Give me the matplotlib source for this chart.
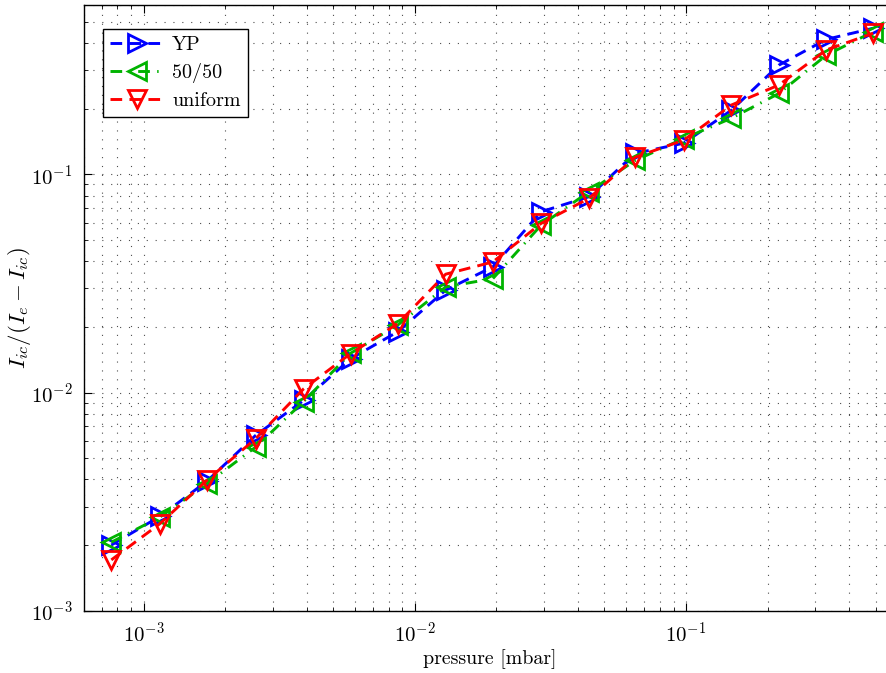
import numpy as np
import matplotlib
matplotlib.use("Agg")
from matplotlib import pyplot as plt


# pressure points (shared by all three series), mbar
pressure = [7.6e-4, 1.15e-3, 1.71e-3, 2.59e-3, 3.89e-3, 5.8e-3, 8.65e-3,
            1.3e-2, 1.94e-2, 2.92e-2, 4.38e-2, 6.5e-2, 9.8e-2, 0.147,
            0.22, 0.329, 0.49]

# I_ic / (I_e - I_ic)
yp      = [2.0e-3, 2.71e-3, 3.92e-3, 6.37e-3, 9.2e-3, 1.43e-2, 1.9e-2,
           2.95e-2, 3.77e-2, 6.74e-2, 7.9e-2, 0.125, 0.139, 0.197,
           0.317, 0.416, 0.468]
fifty   = [2.06e-3, 2.69e-3, 3.82e-3, 5.63e-3, 9.1e-3, 1.515e-2, 2.04e-2,
           3.05e-2, 3.33e-2, 5.85e-2, 8.32e-2, 0.116, 0.146, 0.181,
           0.235, 0.352, 0.451]
uniform = [1.71e-3, 2.51e-3, 3.96e-3, 6.15e-3, 1.04e-2, 1.51e-2, 2.07e-2,
           3.49e-2, 3.97e-2, 5.96e-2, 7.76e-2, 0.120, 0.1435, 0.208,
           0.257, 0.372, 0.444]

labels = ['YP', '50/50', 'uniform']


# LaTeX-ish look: computer modern everywhere
plt.rcParams['font.family'] = 'serif'
plt.rcParams['font.serif'] = ['cmr10', 'DejaVu Serif']
plt.rcParams['mathtext.fontset'] = 'cm'
plt.rcParams['axes.formatter.use_mathtext'] = True
plt.rcParams['axes.unicode_minus'] = False
plt.rcParams['font.size'] = 15

fig = plt.figure(figsize=(8.87, 6.73), dpi=100)
# right edge of the axes runs slightly past the figure, as in the reference
ax = fig.add_axes([83.5/887, 62.3/673, 813.5/887, 606/673])
ax.set_xscale('log')
ax.set_yscale('log')

common = dict(markersize=13, markeredgewidth=2, markerfacecolor='none', lw=2.1)
ax.plot(pressure, yp, color='b', marker='>', dashes=(4, 2.5),
        label=labels[0], **common)
ax.plot(pressure, fifty, color=(0, 0.7, 0), marker='<',
        dashes=(4, 2.5, 0.5, 2.5), label=labels[1], **common)
ax.plot(pressure, uniform, color='r', marker='v', dashes=(4, 2.5),
        label=labels[2], **common)

ax.set_xlim(6e-4, 0.6)
ax.set_ylim(1e-3, 0.6)

# matlab style dotted grid on major and minor ticks
ax.grid(True, which='both', color='0.3', lw=0.8, linestyle=(0, (1, 7)))
ax.tick_params(which='both', direction='in', top=True, right=True,
               labelsize=15, pad=8)
ax.tick_params(which='major', length=6)
ax.tick_params(which='minor', length=3)
for s in ax.spines.values():
    s.set_linewidth(1.0)

ax.set_xlabel('pressure [mbar]', fontsize=14.3, labelpad=2)
ax.set_ylabel(r'$I_{ic}/(I_e - I_{ic})$', fontsize=16.5)
ax.yaxis.set_label_coords(-0.062, 0.5)

leg = ax.legend(loc='upper left', bbox_to_anchor=(0.0236, 0.960),
                borderaxespad=0, fancybox=False, edgecolor='k', framealpha=1,
                handlelength=2.7, borderpad=0.35, labelspacing=0.45,
                handletextpad=0.4, fontsize=14.5)
leg.get_frame().set_linewidth(1.0)

plt.savefig('out.png', dpi=100)
